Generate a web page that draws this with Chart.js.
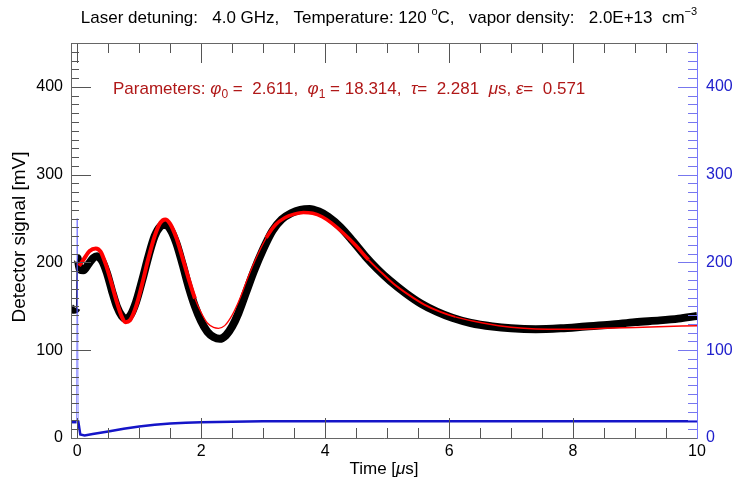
<!DOCTYPE html>
<html>
<head>
<meta charset="utf-8">
<script src="https://cdn.jsdelivr.net/npm/chart.js"></script>
<style>
  html, body { margin: 0; padding: 0; background: #fff; }
  #wrap { width: 735px; height: 481px; position: relative; }
</style>
</head>
<body>
<div id="wrap"><canvas id="myChart" width="735" height="481"></canvas></div>
<script>
// measured detector signal (black), left axis
const sigTime = [-0.1, -0.05, -0.01, 0.005, 0.04, 0.1, 0.18, 0.26, 0.32, 0.4, 0.48, 0.56, 0.64, 0.72, 0.78, 0.86, 0.95,
  1.05, 1.15, 1.25, 1.34, 1.42, 1.5, 1.6, 1.7, 1.8, 1.9, 2.0, 2.1, 2.2, 2.3, 2.4, 2.5, 2.6, 2.72, 2.85, 3.0, 3.15,
  3.3, 3.45, 3.6, 3.75, 3.9, 4.05, 4.25, 4.45, 4.65, 4.85, 5.05, 5.3, 5.55, 5.8, 6.05, 6.35, 6.7, 7.0, 7.4, 7.8,
  8.2, 8.6, 9.0, 9.4, 9.7, 10];
const sigValue = [148, 146, 148, 205, 192, 191, 198, 205, 207, 202, 188, 168, 150, 139, 136, 140, 155,
  180, 207, 230, 241, 243, 238, 222, 198, 172, 150, 133, 121, 115, 113, 117, 127, 142, 165, 190, 215, 236,
  249, 256, 260, 261, 258, 252, 240, 224, 207, 192, 179, 165, 153, 144, 137, 131, 127, 125, 124, 125,
  127, 129, 132, 134, 136, 139];

// fitted curve (red), left axis
const fitTime = [0.03, 0.1, 0.2, 0.3, 0.38, 0.46, 0.55, 0.63, 0.72, 0.78, 0.85, 0.95, 1.05, 1.15, 1.25, 1.34, 1.42,
  1.5, 1.6, 1.7, 1.8, 1.9, 2.0, 2.1, 2.2, 2.28, 2.38, 2.5, 2.62, 2.75, 2.9, 3.05, 3.2, 3.35, 3.5, 3.65, 3.8, 3.95,
  4.1, 4.3, 4.5, 4.7, 4.9, 5.1, 5.35, 5.6, 5.85, 6.1, 6.4, 6.8, 7.2, 7.6, 8.0, 8.5, 9.0, 9.5, 10];
const fitValue = [196, 203, 213, 216, 212, 198, 177, 157, 138, 132, 134, 150, 176, 205, 230, 245, 249,
  244, 228, 205, 181, 159, 143, 131, 126, 125, 128, 140, 158, 182, 207, 228, 243, 251, 255, 257, 256, 252,
  245, 233, 219, 203, 189, 176, 163, 152, 144, 138, 133, 128, 125, 124, 124, 125, 126, 127, 128];

// reference signal (blue), right axis
const refTime = [-0.1, -0.01, 0, 0.015, 0.05, 0.12, 0.25, 0.5, 0.75, 1.0, 1.25, 1.5, 1.75, 2.0, 2.5, 3, 4, 6, 8, 10];
const refValue = [18, 18, 250, 20, 4, 3, 4.5, 7.5, 10.5, 13, 15, 16.5, 17.5, 18, 18.5, 19, 19, 19, 19, 19];

const xTicks = [0, 2, 4, 6, 8, 10];
const yTicks = [0, 100, 200, 300, 400];

const FONT = '"Liberation Sans", Arial, Helvetica, sans-serif';

function pts(t, v) { return t.map((x, i) => ({ x: x, y: v[i] })); }

function drawPieces(ctx, pieces, x, y, color, base) {
  let cx = x;
  pieces.forEach(p => {
    const size = p.size || base;
    ctx.font = (p.italic ? 'italic ' : '') + size + 'px ' + FONT;
    ctx.fillStyle = color;
    ctx.fillText(p.t, cx, y + (p.dy || 0));
    cx += ctx.measureText(p.t).width;
  });
  return cx - x;
}
function piecesWidth(ctx, pieces, base) {
  let w = 0;
  pieces.forEach(p => {
    ctx.font = (p.italic ? 'italic ' : '') + (p.size || base) + 'px ' + FONT;
    w += ctx.measureText(p.t).width;
  });
  return w;
}

const framePlugin = {
  id: 'frame',
  afterDatasetsDraw(chart) {
    const ctx = chart.ctx;
    const a = chart.chartArea;
    const xs = chart.scales.x, yl = chart.scales.y, yr = chart.scales.y2;
    ctx.save();
    ctx.lineWidth = 1;
    // x ticks, bottom and top
    ctx.strokeStyle = '#555';
    for (let k = 0; k <= 20; k++) {
      const v = k * 0.5;
      const px = Math.round(xs.getPixelForValue(v)) + 0.5;
      const len = (k % 4 === 0) ? 20 : 10;
      ctx.beginPath();
      ctx.moveTo(px, a.bottom); ctx.lineTo(px, a.bottom - len);
      ctx.moveTo(px, a.top); ctx.lineTo(px, a.top + len);
      ctx.stroke();
    }
    // left ticks
    for (let v = 0; v <= 450; v += 10) {
      const py = Math.round(yl.getPixelForValue(v)) + 0.5;
      const len = (v % 100 === 0) ? 20 : 8;
      ctx.beginPath(); ctx.moveTo(a.left, py); ctx.lineTo(a.left + len, py); ctx.stroke();
    }
    // right ticks
    ctx.strokeStyle = '#7777ee';
    for (let v = 0; v <= 450; v += 10) {
      const py = Math.round(yr.getPixelForValue(v)) + 0.5;
      const len = (v % 100 === 0) ? 19 : 9;
      ctx.beginPath(); ctx.moveTo(a.right, py); ctx.lineTo(a.right - len, py); ctx.stroke();
    }
    // frame
    ctx.strokeStyle = '#666';
    ctx.beginPath();
    ctx.moveTo(a.right, a.top + 0.5); ctx.lineTo(a.left + 0.5, a.top + 0.5);
    ctx.lineTo(a.left + 0.5, a.bottom + 0.5); ctx.lineTo(a.right, a.bottom + 0.5);
    ctx.stroke();
    ctx.strokeStyle = '#7777ff';
    ctx.beginPath(); ctx.moveTo(a.right + 0.5, a.top); ctx.lineTo(a.right + 0.5, a.bottom + 1); ctx.stroke();

    // title
    ctx.textBaseline = 'alphabetic';
    const title = [
      { t: 'Laser detuning:   4.0 GHz,   Temperature: 120 ' },
      { t: 'o', size: 11, dy: -8 },
      { t: 'C,   vapor density:   2.0E+13  cm' },
      { t: '\u22123', size: 11, dy: -8 }
    ];
    const tw = piecesWidth(ctx, title, 17);
    drawPieces(ctx, title, 389 - tw / 2, 23, '#000', 17);

    // fit parameters
    const par = [
      { t: 'Parameters: ' }, { t: '\u03c6', italic: true }, { t: '0', size: 12, dy: 4 },
      { t: ' =  2.611,  ' }, { t: '\u03c6', italic: true }, { t: '1', size: 12, dy: 4 },
      { t: ' = 18.314,  ' }, { t: '\u03c4', italic: true }, { t: '=  2.281  ' },
      { t: '\u03bc', italic: true }, { t: 's, ' }, { t: '\u03b5', italic: true }, { t: '=  0.571' }
    ];
    drawPieces(ctx, par, 113, 94, '#b01818', 17);

    // axis titles
    const xt = [{ t: 'Time [' }, { t: '\u03bc', italic: true }, { t: 's]' }];
    const xw = piecesWidth(ctx, xt, 17);
    drawPieces(ctx, xt, 384 - xw / 2, 474, '#000', 17);
    ctx.save();
    ctx.translate(25, 237);
    ctx.rotate(-Math.PI / 2);
    ctx.font = '19px ' + FONT;
    ctx.textAlign = 'center';
    ctx.fillStyle = '#000';
    ctx.fillText('Detector signal [mV]', 0, 0);
    ctx.restore();
    ctx.restore();
  }
};

const ctx = document.getElementById('myChart').getContext('2d');
new Chart(ctx, {
  type: 'line',
  data: {
    datasets: [
      {
        label: 'signal',
        order: 2,
        data: pts(sigTime, sigValue),
        borderColor: '#000',
        borderWidth: 8,
        segment: {
          borderWidth: c => (c.p0DataIndex === 2) ? 1.5 : undefined
        },
        borderJoinStyle: 'round',
        borderCapStyle: 'butt',
        pointRadius: 0,
        cubicInterpolationMode: 'monotone',
        yAxisID: 'y'
      },
      {
        label: 'fit',
        order: 0,
        data: pts(fitTime, fitValue),
        borderColor: '#ff0000',
        borderWidth: 1.3,
        segment: {
          borderWidth: c => {
            const x = c.p0.parsed.x;
            if (x < 1.85) return 4;
            if (x < 3.05) return 1.3;
            if (x < 4.6) return 3.5;
            if (x < 6) return 2;
            return 1.5;
          }
        },
        pointRadius: 0,
        cubicInterpolationMode: 'monotone',
        yAxisID: 'y'
      },
      {
        label: 'reference',
        order: 1,
        data: pts(refTime, refValue),
        borderColor: '#1515c8',
        borderWidth: 2.5,
        segment: {
          borderColor: c => (c.p0DataIndex === 1 || c.p0DataIndex === 2) ? 'rgba(90,90,255,0.7)' : undefined,
          borderWidth: c => (c.p0DataIndex === 1 || c.p0DataIndex === 2) ? 1 : undefined
        },
        pointRadius: 0,
        tension: 0,
        yAxisID: 'y2'
      }
    ]
  },
  options: {
    responsive: false,
    animation: false,
    events: [],
    layout: { padding: { top: 43, left: 0, right: 0, bottom: 0 } },
    plugins: { legend: { display: false }, tooltip: { enabled: false } },
    scales: {
      x: {
        type: 'linear', min: -0.1, max: 10,
        grid: { display: false, drawTicks: false, tickLength: 0 }, border: { display: false },
        afterBuildTicks: s => { s.ticks = xTicks.map(v => ({ value: v })); },
        afterFit: s => { s.height = 43; },
        ticks: { color: '#000', font: { size: 16, family: FONT }, padding: 4, maxRotation: 0, autoSkip: false }
      },
      y: {
        type: 'linear', position: 'left', min: 0, max: 450,
        grid: { display: false, drawTicks: false, tickLength: 0 }, border: { display: false },
        afterBuildTicks: s => { s.ticks = yTicks.map(v => ({ value: v })); },
        afterFit: s => { s.width = 71; },
        ticks: { color: '#000', font: { size: 16, family: FONT }, padding: 8 }
      },
      y2: {
        type: 'linear', position: 'right', min: 0, max: 450,
        grid: { display: false, drawTicks: false, tickLength: 0 }, border: { display: false },
        afterBuildTicks: s => { s.ticks = yTicks.map(v => ({ value: v })); },
        afterFit: s => { s.width = 38; },
        ticks: { color: '#2020cc', font: { size: 16, family: FONT }, padding: 9 }
      }
    }
  },
  plugins: [framePlugin]
});
</script>
</body>
</html>
